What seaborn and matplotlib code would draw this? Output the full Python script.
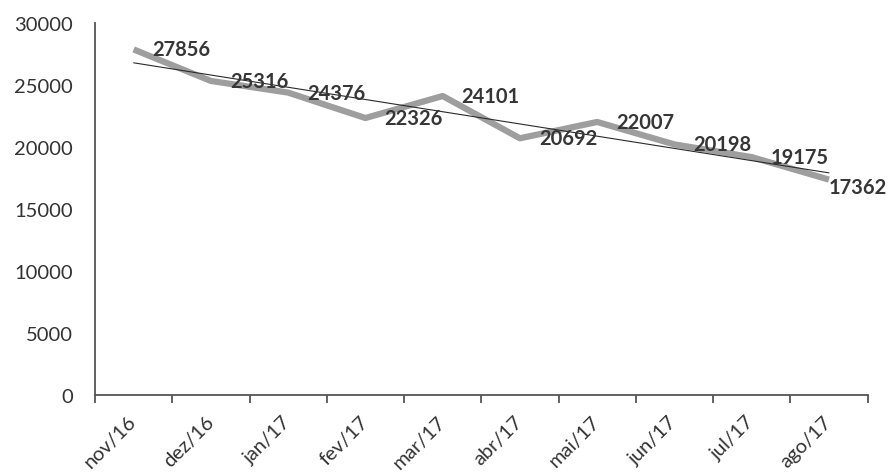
import matplotlib.pyplot as plt
import numpy as np
import pandas as pd
import seaborn as sns

months = ['nov/16', 'dez/16', 'jan/17', 'fev/17', 'mar/17',
          'abr/17', 'mai/17', 'jun/17', 'jul/17', 'ago/17']
values = [27856, 25316, 24376, 22326, 24101, 20692, 22007, 20198, 19175, 17362]
y_ticks = [0, 5000, 10000, 15000, 20000, 25000, 30000]

df = pd.DataFrame({'pos': range(len(months)), 'month': months, 'value': values})

sns.set_style('white')
plt.rcParams['font.family'] = ['Lato', 'DejaVu Sans']

fig = plt.figure(figsize=(8.88, 4.77), dpi=100)
ax = fig.add_axes([0.107, 0.170, 0.870, 0.780])

# serie principal (linha cinza grossa)
sns.lineplot(data=df, x='pos', y='value', color='#9e9e9e', linewidth=4.5,
             solid_capstyle='butt', ax=ax, zorder=2)
# linha de tendencia linear
sns.regplot(data=df, x='pos', y='value', scatter=False, ci=None, ax=ax,
            color='#2a2a2a', line_kws={'linewidth': 0.8, 'zorder': 3})

# rotulos de dados
for i, v in enumerate(values):
    dx, dy = 19, 0
    if i == len(values) - 1:
        dx, dy = 0, -7
    ax.annotate(str(v), (i, v), xytext=(dx, dy), textcoords='offset pixels',
                ha='left', va='center', fontsize=14.5, fontweight='bold',
                color='#363636', zorder=4)

ax.set_xlim(-0.5, len(months) - 0.5)
ax.set_ylim(0, 30000)
ax.set_yticks(y_ticks)
ax.set_xticks(range(len(months)))
ax.set_xticklabels(months, rotation=45, ha='right', va='center',
                   rotation_mode='anchor')
ax.set_xticks(np.arange(-0.5, len(months)), minor=True)

ax.tick_params(axis='y', length=0, pad=16, labelsize=14.5, labelcolor='#333333')
ax.tick_params(axis='x', which='major', length=0, pad=17, labelsize=14.5,
               labelcolor='#333333')
ax.tick_params(axis='x', which='minor', length=6, width=1.3, color='#555555',
               direction='out', bottom=True)

for side in ['top', 'right']:
    ax.spines[side].set_visible(False)
for side in ['left', 'bottom']:
    ax.spines[side].set_color('#555555')
    ax.spines[side].set_linewidth(1.3)

ax.set_xlabel('')
ax.set_ylabel('')

fig.savefig('out.png', dpi=100, facecolor='white')
